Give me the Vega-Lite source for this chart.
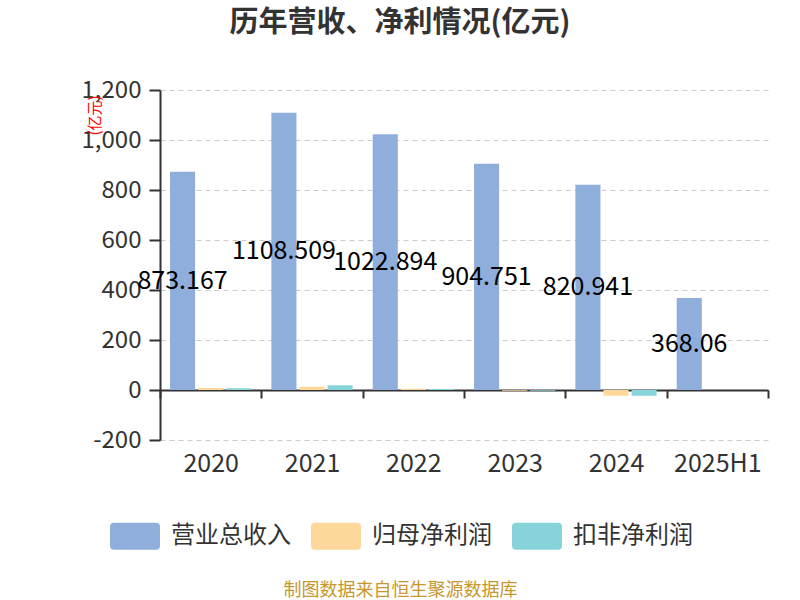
{
  "$schema": "https://vega.github.io/schema/vega-lite/v6.json",
  "autosize": {"type": "none"},
  "width": 608,
  "height": 350,
  "padding": {"left": 160, "top": 90, "right": 32, "bottom": 160},
  "background": "white",
  "config": {"font": "Noto Sans CJK SC", "view": {"stroke": null}},
  "title": {
    "text": "历年营收、净利情况(亿元)",
    "fontSize": 29,
    "fontWeight": "bold",
    "color": "#333333",
    "anchor": "middle",
    "dx": -64,
    "offset": 40
  },
  "data": {
    "values": [
      {"year": "2020", "series": "营业总收入", "value": 873.167},
      {"year": "2020", "series": "归母净利润", "value": 8},
      {"year": "2020", "series": "扣非净利润", "value": 7},
      {"year": "2021", "series": "营业总收入", "value": 1108.509},
      {"year": "2021", "series": "归母净利润", "value": 13},
      {"year": "2021", "series": "扣非净利润", "value": 19},
      {"year": "2022", "series": "营业总收入", "value": 1022.894},
      {"year": "2022", "series": "归母净利润", "value": 5},
      {"year": "2022", "series": "扣非净利润", "value": 4},
      {"year": "2023", "series": "营业总收入", "value": 904.751},
      {"year": "2023", "series": "归母净利润", "value": -3},
      {"year": "2023", "series": "扣非净利润", "value": -3},
      {"year": "2024", "series": "营业总收入", "value": 820.941},
      {"year": "2024", "series": "归母净利润", "value": -23},
      {"year": "2024", "series": "扣非净利润", "value": -23},
      {"year": "2025H1", "series": "营业总收入", "value": 368.06}
    ]
  },
  "layer": [
    {
      "mark": {"type": "bar"},
      "encoding": {
        "x": {
          "field": "year",
          "type": "nominal",
          "sort": null,
          "scale": {"paddingInner": 0, "paddingOuter": 0},
          "axis": {
            "title": "制图数据来自恒生聚源数据库",
            "titleColor": "#C8962E",
            "titleFontSize": 18,
            "titleFontWeight": "normal",
            "titleX": 240,
            "titleY": 200,
            "titleAlign": "center",
            "titleBaseline": "middle",
            "offset": -50,
            "domainColor": "#333333",
            "domainWidth": 2,
            "tickColor": "#333333",
            "tickWidth": 2,
            "tickSize": 8,
            "tickBand": "extent",
            "labelFontSize": 25,
            "labelColor": "#333333",
            "labelPadding": 53,
            "labelAngle": 0,
            "grid": false
          }
        },
        "xOffset": {
          "field": "series",
          "type": "nominal",
          "scale": {"domain": ["营业总收入", "归母净利润", "扣非净利润"], "paddingInner": 0.107, "paddingOuter": 0.357}
        },
        "y": {
          "field": "value",
          "type": "quantitative",
          "scale": {"domain": [-200, 1200], "nice": false},
          "axis": {
            "title": "(亿元)",
            "titleColor": "#FF0000",
            "titleFontSize": 15,
            "titleFontWeight": "normal",
            "titleX": -66,
            "titleY": 25,
            "titleAngle": -90,
            "titleAlign": "center",
            "titleBaseline": "middle",
            "values": [-200, 0, 200, 400, 600, 800, 1000, 1200],
            "labelExpr": "datum.value < 0 ? '-' + format(-datum.value, ',') : format(datum.value, ',')",
            "labelFontSize": 24,
            "labelColor": "#333333",
            "labelPadding": 8,
            "tickSize": 11,
            "tickColor": "#333333",
            "tickWidth": 2,
            "domainColor": "#333333",
            "domainWidth": 2,
            "gridColor": "#CCCCCC",
            "gridDash": [5, 4],
            "gridWidth": 1
          }
        },
        "color": {
          "field": "series",
          "type": "nominal",
          "scale": {
            "domain": ["营业总收入", "归母净利润", "扣非净利润"],
            "range": ["#8FAEDB", "#FDD89A", "#86D4D9"]
          },
          "legend": {
            "title": null,
            "orient": "none",
            "legendX": -50,
            "legendY": 421,
            "direction": "horizontal",
            "padding": 0,
            "symbolType": "M-0.84,-0.54 H0.84 Q1,-0.54 1,-0.38 V0.38 Q1,0.54 0.84,0.54 H-0.84 Q-1,0.54 -1,0.38 V-0.38 Q-1,-0.54 -0.84,-0.54 Z",
            "symbolSize": 2500,
            "symbolStrokeWidth": 0,
            "symbolOpacity": 1,
            "labelFontSize": 24,
            "labelColor": "#333333",
            "labelOffset": 11,
            "columnPadding": 20
          }
        }
      }
    },
    {
      "transform": [{"filter": "datum.series === '营业总收入'"}],
      "mark": {"type": "text", "fontSize": 25, "color": "#000000"},
      "encoding": {
        "x": {"field": "year", "type": "nominal", "sort": null},
        "xOffset": {
          "field": "series",
          "type": "nominal",
          "scale": {"domain": ["营业总收入", "归母净利润", "扣非净利润"], "paddingInner": 0.107, "paddingOuter": 0.357}
        },
        "y": {
          "field": "value",
          "type": "quantitative",
          "scale": {"domain": [-400, 2400], "nice": false},
          "axis": null
        },
        "text": {"field": "value", "type": "nominal"}
      }
    }
  ],
  "resolve": {"scale": {"y": "independent"}}
}
